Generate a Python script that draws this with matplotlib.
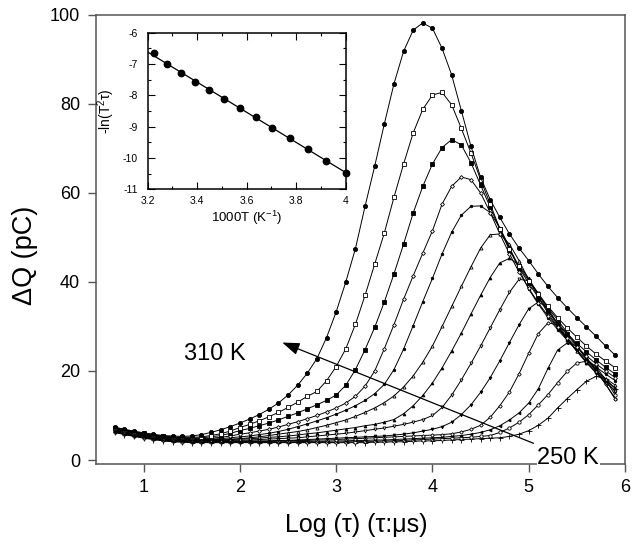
import numpy as np
import matplotlib
matplotlib.use("Agg")
from matplotlib import pyplot as plt
from matplotlib.ticker import MultipleLocator, FuncFormatter

plt.rcParams['font.family'] = ['Liberation Sans', 'DejaVu Sans']
plt.rcParams['mathtext.default'] = 'regular'

# log(tau) grid shared by all curves (tau in microseconds)
log_tau = np.round(np.arange(0.7, 5.95, 0.1), 2)

temps = [310, 305, 300, 295, 290, 285, 280, 275, 270, 265, 260, 255, 250]

dq310 = [7.4, 6.9, 6.5, 6.1, 5.8, 5.5, 5.4, 5.3, 5.4, 5.7,
         6.2, 6.8, 7.5, 8.3, 9.2, 10.2, 11.4, 12.8, 14.6, 16.8,
         19.5, 22.8, 27.5, 33.3, 40.0, 47.5, 57.0, 66.0, 75.5, 84.5,
         91.8, 96.6, 98.2, 97.0, 92.5, 86.5, 78.5, 70.5, 63.5, 58.5,
         54.5, 50.8, 47.6, 44.8, 41.8, 39.0, 36.5, 34.2, 32.0, 29.9,
         27.8, 25.6, 23.5]
dq305 = [7.3, 6.8, 6.4, 6.0, 5.6, 5.4, 5.2, 5.1, 5.1, 5.2,
         5.5, 5.9, 6.5, 7.3, 8.0, 8.8, 9.7, 10.7, 11.8, 13.0,
         14.3, 15.4, 17.8, 21.0, 25.0, 30.5, 37.0, 44.0, 51.0, 59.0,
         66.5, 73.5, 78.8, 82.0, 82.6, 79.8, 74.5, 69.0, 63.0, 57.5,
         52.0, 47.5, 43.5, 40.3, 37.3, 34.5, 32.0, 29.7, 27.6, 25.6,
         23.8, 22.2, 20.7]
dq300 = [7.2, 6.7, 6.3, 5.9, 5.5, 5.3, 5.1, 5.0, 4.9, 5.0,
         5.2, 5.5, 6.0, 6.6, 7.1, 7.7, 8.3, 9.0, 9.8, 10.6,
         11.5, 12.4, 13.4, 14.6, 16.8, 20.3, 24.8, 29.8, 35.5, 41.8,
         48.5, 55.5, 61.5, 66.5, 70.2, 72.0, 70.8, 66.8, 61.8, 56.8,
         51.8, 47.2, 43.2, 39.7, 36.5, 33.5, 30.8, 28.4, 26.2, 24.3,
         22.5, 20.8, 19.3]
dq295 = [7.1, 6.6, 6.2, 5.8, 5.4, 5.2, 5.0, 4.9, 4.8, 4.8,
         4.9, 5.1, 5.4, 5.8, 6.1, 6.5, 6.9, 7.4, 8.0, 8.6,
         9.3, 10.0, 10.8, 11.7, 12.8, 14.3, 16.6, 20.0, 25.0, 30.4,
         36.1, 41.4, 46.5, 51.5, 57.5, 61.5, 63.6, 63.0, 60.0, 55.6,
         50.8, 46.3, 42.2, 38.6, 35.3, 32.4, 29.8, 27.4, 25.3, 23.4,
         21.6, 20.0, 18.5]
dq290 = [7.0, 6.5, 6.1, 5.7, 5.4, 5.1, 4.9, 4.8, 4.7, 4.7,
         4.7, 4.8, 5.0, 5.2, 5.4, 5.7, 6.0, 6.4, 6.9, 7.5,
         8.1, 8.8, 9.5, 10.3, 11.2, 12.2, 13.4, 14.9, 17.0, 20.3,
         24.9, 30.2, 35.6, 40.8, 46.3, 51.2, 55.0, 57.0, 57.1, 55.6,
         52.2, 47.8, 42.8, 38.4, 35.0, 32.0, 29.3, 26.9, 24.7, 22.7,
         20.9, 19.3, 17.8]
dq285 = [6.9, 6.4, 6.0, 5.6, 5.3, 5.0, 4.8, 4.7, 4.6, 4.6,
         4.6, 4.6, 4.7, 4.8, 5.0, 5.2, 5.5, 5.8, 6.1, 6.4,
         6.8, 7.3, 7.8, 8.4, 9.0, 9.8, 10.7, 11.7, 12.9, 14.4,
         16.4, 18.9, 22.0, 25.6, 30.0, 34.5, 39.0, 43.4, 47.6, 50.6,
         50.8, 48.5, 44.8, 40.5, 36.6, 33.0, 29.8, 27.0, 24.5, 22.2,
         20.1, 18.3, 16.8]
dq280 = [6.8, 6.3, 5.9, 5.5, 5.2, 4.9, 4.7, 4.6, 4.5, 4.5,
         4.5, 4.5, 4.6, 4.7, 4.8, 4.9, 5.1, 5.2, 5.4, 5.6,
         5.9, 6.1, 6.4, 6.7, 7.0, 7.3, 7.7, 8.0, 8.5, 9.1,
         10.4, 12.2, 14.5, 17.3, 20.7, 24.5, 28.5, 32.8, 37.0, 41.0,
         44.3, 45.3, 43.8, 40.8, 37.2, 33.6, 30.2, 27.2, 24.4, 21.9,
         19.7, 17.8, 16.2]
dq275 = [6.7, 6.2, 5.8, 5.4, 5.1, 4.8, 4.6, 4.5, 4.4, 4.4,
         4.4, 4.4, 4.4, 4.5, 4.5, 4.6, 4.7, 4.8, 4.9, 5.0,
         5.2, 5.4, 5.6, 5.8, 6.0, 6.3, 6.6, 6.9, 7.2, 7.6,
         8.0, 8.5, 9.1, 10.0, 11.8, 14.6, 18.0, 21.7, 25.6, 29.7,
         33.8, 37.7, 40.6, 40.3, 37.5, 34.0, 30.6, 27.4, 24.5, 21.9,
         19.5, 17.4, 15.6]
dq270 = [6.6, 6.1, 5.7, 5.3, 5.0, 4.7, 4.5, 4.4, 4.3, 4.3,
         4.3, 4.3, 4.3, 4.3, 4.3, 4.3, 4.3, 4.4, 4.4, 4.5,
         4.6, 4.7, 4.8, 4.9, 5.0, 5.1, 5.2, 5.3, 5.4, 5.6,
         5.8, 6.1, 6.5, 6.9, 7.5, 8.5, 10.2, 12.4, 15.2, 18.5,
         22.3, 26.4, 30.4, 34.0, 35.5, 34.2, 31.5, 28.6, 25.7, 22.9,
         20.3, 17.8, 15.3]
dq265 = [6.5, 6.0, 5.6, 5.2, 4.9, 4.6, 4.4, 4.3, 4.2, 4.2,
         4.2, 4.2, 4.2, 4.2, 4.2, 4.2, 4.2, 4.3, 4.3, 4.4,
         4.4, 4.5, 4.5, 4.6, 4.7, 4.8, 4.9, 5.0, 5.1, 5.2,
         5.3, 5.4, 5.5, 5.6, 5.7, 5.9, 6.3, 6.9, 7.8, 9.6,
         12.2, 15.3, 19.4, 24.0, 28.4, 30.8, 30.4, 28.2, 25.5, 22.8,
         20.1, 17.0, 13.8]
dq260 = [6.4, 5.9, 5.5, 5.1, 4.8, 4.5, 4.3, 4.2, 4.1, 4.1,
         4.1, 4.1, 4.1, 4.1, 4.1, 4.1, 4.1, 4.1, 4.1, 4.1,
         4.2, 4.2, 4.2, 4.3, 4.3, 4.4, 4.4, 4.5, 4.5, 4.6,
         4.7, 4.8, 4.9, 5.0, 5.1, 5.3, 5.5, 5.8, 6.2, 6.8,
         7.7, 9.0, 10.6, 12.8, 16.0, 20.6, 24.7, 26.3, 25.6, 22.9,
         20.1, 17.0, 13.6]
dq255 = [6.3, 5.8, 5.4, 5.0, 4.7, 4.4, 4.2, 4.1, 4.0, 4.0,
         4.0, 4.0, 4.0, 4.0, 4.0, 4.0, 4.0, 4.0, 4.0, 4.0,
         4.0, 4.0, 4.0, 4.0, 4.1, 4.1, 4.2, 4.2, 4.3, 4.3,
         4.4, 4.5, 4.6, 4.7, 4.8, 4.9, 5.0, 5.1, 5.3, 5.5,
         6.2, 7.2, 8.5, 10.2, 12.4, 14.7, 17.4, 19.9, 21.8, 22.2,
         21.0, 18.0, 14.5]
dq250 = [6.2, 5.7, 5.3, 4.9, 4.6, 4.3, 4.1, 4.0, 3.9, 3.9,
         3.9, 3.9, 3.9, 3.9, 3.9, 3.9, 3.9, 3.9, 3.9, 3.9,
         3.9, 3.9, 3.9, 3.9, 3.9, 3.9, 3.9, 4.0, 4.0, 4.1,
         4.1, 4.2, 4.3, 4.3, 4.4, 4.5, 4.6, 4.7, 4.8, 4.9,
         5.0, 5.3, 5.8, 6.6, 7.8, 9.4, 11.7, 13.8, 15.8, 17.7,
         18.8, 18.2, 16.0]

curves = [dq310, dq305, dq300, dq295, dq290, dq285, dq280,
          dq275, dq270, dq265, dq260, dq255, dq250]

# inset: Arrhenius-type plot
inv_t = [3.226, 3.279, 3.333, 3.390, 3.448, 3.509, 3.571,
         3.636, 3.704, 3.774, 3.846, 3.922, 4.000]
ln_t2tau = [-6.66, -7.00, -7.29, -7.56, -7.84, -8.12, -8.41,
            -8.70, -9.03, -9.36, -9.71, -10.08, -10.46]

# marker, face colour, size for each temperature
styles = [('o', 'k', 3.0), ('s', 'w', 2.8), ('s', 'k', 3.0), ('D', 'w', 2.0),
          ('o', 'k', 1.8), ('^', 'w', 2.2), ('^', 'k', 2.0), ('v', 'w', 2.2),
          ('v', 'k', 2.0), ('D', 'w', 1.8), ('<', 'k', 2.0), ('o', 'w', 2.4),
          ('+', 'k', 3.6)]


def main():
    fig = plt.figure(figsize=(6.41, 5.45), dpi=100)
    ax = fig.add_axes([0.149, 0.1486, 0.826, 0.824])

    for i in range(len(curves) - 1, -1, -1):
        m, fc, ms = styles[i]
        ax.plot(log_tau, curves[i], color='k', lw=0.7, marker=m, ms=ms,
                mfc=fc, mec='k', mew=0.6, zorder=3 + (len(curves) - i) * 0.01)

    ax.set_xlim(0.5, 6)
    ax.set_ylim(-0.9, 100)
    ax.set_xticks([1, 2, 3, 4, 5, 6])
    ax.set_yticks([0, 20, 40, 60, 80, 100])
    for s in ax.spines.values():
        s.set_color('#555555')
        s.set_linewidth(1.1)
    ax.tick_params(direction='out', length=6, width=1, color='#555555',
                   labelsize=13, pad=5, top=False, right=False)

    ax.set_xlabel('Log (τ) (τ:μs)', fontsize=18)
    ax.set_ylabel('ΔQ (pC)', fontsize=19.5)
    ax.xaxis.set_label_coords(0.492, -0.11)
    ax.yaxis.set_label_coords(-0.108, 0.465)

    ax.annotate('', xy=(2.44, 26.4), xytext=(5.05, 3.75),
                arrowprops=dict(arrowstyle='-|>,head_length=0.7,head_width=0.25',
                                color='k', lw=0.9, mutation_scale=15,
                                shrinkA=0, shrinkB=0), zorder=6)
    ax.text(1.42, 22.5, '310 K', fontsize=17, ha='left', va='baseline', zorder=7)
    ax.text(5.09, -0.9, '250 K', fontsize=17, ha='left', va='baseline', zorder=7,
            bbox=dict(facecolor='white', edgecolor='none', pad=0.5))

    # inset
    ins = fig.add_axes([0.2304, 0.6523, 0.3089, 0.2877])
    fit = np.polyfit(inv_t, ln_t2tau, 1)
    xx = np.array([3.2, 4.0])
    ins.plot(xx, np.polyval(fit, xx), color='k', lw=0.9, zorder=2)
    ins.plot(inv_t, ln_t2tau, 'o', color='k', ms=4.6, zorder=3, clip_on=False)
    ins.set_xlim(3.2, 4.0)
    ins.set_ylim(-11, -6)
    ins.xaxis.set_major_locator(MultipleLocator(0.2))
    ins.xaxis.set_minor_locator(MultipleLocator(0.1))
    ins.yaxis.set_major_locator(MultipleLocator(1))
    ins.yaxis.set_minor_locator(MultipleLocator(0.5))
    ins.xaxis.set_major_formatter(FuncFormatter(lambda v, p: '%g' % round(v, 2)))
    ins.yaxis.set_major_formatter(FuncFormatter(lambda v, p: '%g' % v))
    ins.tick_params(which='both', direction='in', top=True, right=True,
                    labelsize=7.5, width=0.8)
    ins.tick_params(which='major', length=5)
    ins.tick_params(which='minor', length=2.5)
    ins.tick_params(axis='y', pad=7)
    ins.tick_params(axis='x', pad=5)
    for s in ins.spines.values():
        s.set_linewidth(1.1)
    ins.set_xlabel('1000T (K$^{-1}$)', fontsize=9.5, labelpad=2)
    ins.set_ylabel('-ln(T$^{2}$τ)', fontsize=10, labelpad=4)

    fig.savefig('out.png', dpi=100)


if __name__ == '__main__':
    main()
